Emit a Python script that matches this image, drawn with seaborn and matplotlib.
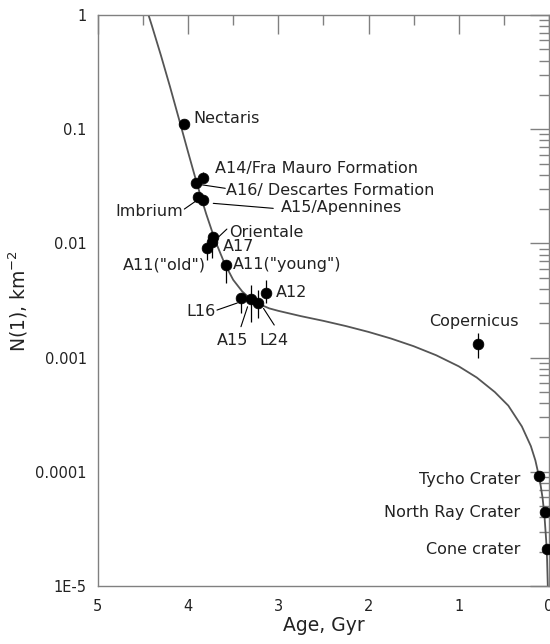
import matplotlib
matplotlib.use("Agg")
import matplotlib.pyplot as plt
import numpy as np
import pandas as pd
import seaborn as sns
from matplotlib.ticker import FixedLocator, FixedFormatter, NullFormatter

# ---------------- data ----------------
curve_age = [4.46, 4.4, 4.3, 4.2, 4.1, 4.0, 3.9, 3.8, 3.7, 3.6, 3.5, 3.4, 3.3, 3.2,
             3.1, 3.0, 2.75, 2.5, 2.25, 2.0, 1.75, 1.5, 1.25, 1.0, 0.8, 0.6, 0.45,
             0.3, 0.2, 0.15, 0.1, 0.07, 0.05, 0.03, 0.02, 0.011]
curve_n = [1.13, 0.80, 0.44, 0.235, 0.122, 0.063, 0.033, 0.0182, 0.0106, 0.0068,
           0.0048, 0.0038, 0.00323, 0.00292, 0.0027, 0.00257, 0.00231, 0.0021,
           0.00189, 0.00168, 0.00147, 0.00126, 0.00105, 0.00084, 0.00067, 0.0005,
           0.00038, 0.00025, 0.000168, 0.000126, 8.4e-5, 5.9e-5, 4.2e-5, 2.5e-5,
           1.7e-5, 9.2e-6]

site_names = ["Nectaris", "A14", "A16", "Imbrium", "A15/Apennines", "Orientale",
              "A17", "A11 old", "A11 young", "L16", "A15", "L24", "A12",
              "Copernicus", "Tycho", "North Ray", "Cone"]
site_age = [4.05, 3.84, 3.91, 3.89, 3.84, 3.72, 3.74, 3.79, 3.58, 3.41, 3.30,
            3.22, 3.14, 0.79, 0.107, 0.04, 0.02]
site_n = [0.111, 0.0374, 0.0338, 0.0255, 0.024, 0.0114, 0.0103, 0.0091, 0.0065,
          0.00335, 0.00324, 0.00303, 0.00366, 0.00131, 9.2e-5, 4.45e-5, 2.12e-5]
site_n_lo = [0.111, 0.0374, 0.0338, 0.0255, 0.024, 0.0114, 0.0075, 0.0072, 0.0045,
             0.00246, 0.00205, 0.00222, 0.00301, 0.00099, 9.2e-5, 4.45e-5, 2.12e-5]
site_n_hi = [0.111, 0.0422, 0.0338, 0.0255, 0.024, 0.0114, 0.0103, 0.0091, 0.00716,
             0.00368, 0.00432, 0.00391, 0.00478, 0.00164, 9.2e-5, 4.45e-5, 2.12e-5]

y_tick_values = [1e-5, 1e-4, 1e-3, 1e-2, 1e-1, 1]
y_tick_labels = ["1E-5", "0.0001", "0.001", "0.01", "0.1", "1"]
x_tick_values = [5, 4, 3, 2, 1, 0]
x_tick_labels = ["5", "4", "3", "2", "1", "0"]

# ---------------- labels layout (annotation text, anchor, alignment) ----------
labels = [
    ("Nectaris", 3.94, 0.125, "left"),
    ("A14/Fra Mauro Formation", 3.70, 0.0457, "left"),
    ("A16/ Descartes Formation", 3.58, 0.0288, "left"),
    ("A15/Apennines", 2.97, 0.0205, "left"),
    ("Imbrium", 4.05, 0.019, "right"),
    ("Orientale", 3.54, 0.0124, "left"),
    ("A17", 3.61, 0.0095, "left"),
    ('A11("old")', 3.80, 0.0065, "right"),
    ('A11("young")', 3.50, 0.0065, "left"),
    ("A12", 3.03, 0.0037, "left"),
    ("L16", 3.70, 0.00256, "right"),
    ("A15", 3.51, 0.001426, "center"),
    ("L24", 3.05, 0.001426, "center"),
    ("Copernicus", 0.83, 0.00206, "center"),
    ("Tycho Crater", 0.32, 8.65e-5, "right"),
    ("North Ray Crater", 0.32, 4.45e-5, "right"),
    ("Cone crater", 0.32, 2.07e-5, "right"),
]
leaders = [
    ((3.879, 0.0329), (3.588, 0.0304)),
    ((3.721, 0.02245), (3.056, 0.0203)),
    ((4.042, 0.0200), (3.898, 0.0240)),
    ((3.66, 0.01145), (3.57, 0.01337)),
    ((3.68, 0.00261), (3.455, 0.00301)),
    ((3.414, 0.001866), (3.341, 0.00279)),
    ((3.045, 0.00193), (3.164, 0.0027)),
]

# ---------------- figure ----------------
sns.set_theme(style="white")
plt.rcParams["font.family"] = ["DejaVu Sans"]
plt.rcParams["mathtext.default"] = "regular"
axis_grey = "#808080"
text_col = "#222222"

fig = plt.figure(figsize=(5.5, 6.44), dpi=100)
ax = fig.add_axes([0.178, 0.090, 0.820, 0.8866])

curve_df = pd.DataFrame({"age": curve_age, "n": curve_n})
sites_df = pd.DataFrame({"age": site_age, "n": site_n})

sns.lineplot(data=curve_df, x="age", y="n", ax=ax, color="#555555",
             linewidth=1.3, sort=False, zorder=2)
ax.errorbar(site_age, site_n,
            yerr=[np.array(site_n) - np.array(site_n_lo),
                  np.array(site_n_hi) - np.array(site_n)],
            fmt="none", ecolor="black", elinewidth=0.9, capsize=0, zorder=3)
sns.scatterplot(data=sites_df, x="age", y="n", ax=ax, color="black", s=60,
                edgecolor="black", linewidth=0.5, zorder=4)

ax.set_yscale("log")
ax.set_xlim(5, 0)
ax.set_ylim(1e-5, 1)

ax.yaxis.set_major_locator(FixedLocator(y_tick_values))
ax.yaxis.set_major_formatter(FixedFormatter(y_tick_labels))
minor_y = [m * 10.0 ** e for e in range(-5, 0) for m in range(2, 10)]
ax.yaxis.set_minor_locator(FixedLocator(minor_y))
ax.yaxis.set_minor_formatter(NullFormatter())
ax.xaxis.set_major_locator(FixedLocator(x_tick_values))
ax.xaxis.set_major_formatter(FixedFormatter(x_tick_labels))
ax.xaxis.set_minor_locator(FixedLocator([4.5, 3.5, 2.5, 1.5, 0.5]))

ax.tick_params(which="both", direction="in", top=True, right=True,
               color=axis_grey, width=1.0, labelsize=10.5, labelcolor=text_col)
ax.tick_params(which="major", length=14)
ax.tick_params(which="minor", length=7)
ax.tick_params(axis="x", which="major", pad=9)
ax.tick_params(axis="y", which="major", pad=8)
for sp in ax.spines.values():
    sp.set_color(axis_grey)
    sp.set_linewidth(1.0)

ax.set_xlabel("Age, Gyr", fontsize=13.5, color=text_col, labelpad=2)
ax.set_ylabel("N(1), km$^{-2}$", fontsize=13.5, color=text_col, labelpad=4)

for txt, x, y, ha in labels:
    ax.text(x, y, txt, ha=ha, va="center", fontsize=11.5, color=text_col, zorder=5)
for (x1, y1), (x2, y2) in leaders:
    ax.plot([x1, x2], [y1, y2], color="black", linewidth=0.8, zorder=3)

fig.savefig("out.png", dpi=100)
